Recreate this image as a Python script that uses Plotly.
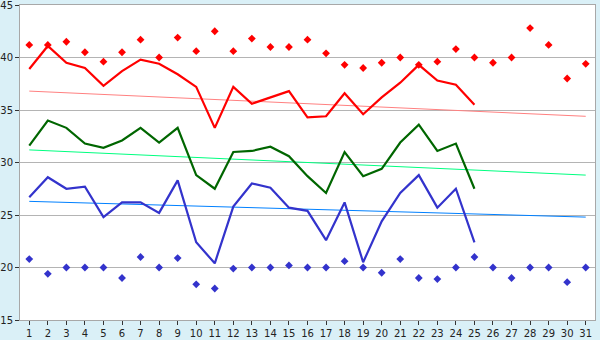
import plotly.graph_objects as go

days = list(range(1, 32))
line_days = list(range(1, 26))

max_temp = [38.9, 41.1, 39.5, 39.0, 37.3, 38.7, 39.8, 39.4, 38.4, 37.2,
            33.3, 37.2, 35.6, 36.2, 36.8, 34.3, 34.4, 36.6, 34.6, 36.2,
            37.6, 39.3, 37.8, 37.4, 35.5]
avg_temp = [31.6, 34.0, 33.3, 31.8, 31.4, 32.1, 33.3, 31.9, 33.3, 28.8,
            27.5, 31.0, 31.1, 31.5, 30.6, 28.7, 27.1, 31.0, 28.7, 29.4,
            31.9, 33.6, 31.1, 31.8, 27.5]
min_temp = [26.7, 28.6, 27.5, 27.7, 24.8, 26.2, 26.2, 25.2, 28.3, 22.4,
            20.4, 25.8, 28.0, 27.6, 25.7, 25.4, 22.6, 26.2, 20.5, 24.4,
            27.1, 28.8, 25.7, 27.5, 22.4]
record_high = [41.2, 41.2, 41.5, 40.5, 39.6, 40.5, 41.7, 40.0, 41.9, 40.6,
               42.5, 40.6, 41.8, 41.0, 41.0, 41.7, 40.4, 39.3, 39.0, 39.5,
               40.0, 39.3, 39.6, 40.8, 40.0, 39.5, 40.0, 42.8, 41.2, 38.0,
               39.4]
record_low = [20.8, 19.4, 20.0, 20.0, 20.0, 19.0, 21.0, 20.0, 20.9, 18.4,
              18.0, 19.9, 20.0, 20.0, 20.2, 20.0, 20.0, 20.6, 20.0, 19.5,
              20.8, 19.0, 18.9, 20.0, 21.0, 20.0, 19.0, 20.0, 20.0, 18.6,
              20.0]
trend_days = [1, 31]
trend_high = [36.8, 34.4]
trend_avg = [31.2, 28.8]
trend_low = [26.3, 24.8]

fig = go.Figure()
fig.add_trace(go.Scatter(x=trend_days, y=trend_high, mode="lines",
                         line=dict(color="#FF8080", width=1)))
fig.add_trace(go.Scatter(x=trend_days, y=trend_avg, mode="lines",
                         line=dict(color="#00FF80", width=1)))
fig.add_trace(go.Scatter(x=trend_days, y=trend_low, mode="lines",
                         line=dict(color="#0080FF", width=1)))
fig.add_trace(go.Scatter(x=line_days, y=max_temp, mode="lines",
                         line=dict(color="#FF0000", width=2.2)))
fig.add_trace(go.Scatter(x=line_days, y=avg_temp, mode="lines",
                         line=dict(color="#006600", width=2.2)))
fig.add_trace(go.Scatter(x=line_days, y=min_temp, mode="lines",
                         line=dict(color="#3333CC", width=2.2)))
fig.add_trace(go.Scatter(x=days, y=record_high, mode="markers",
                         marker=dict(symbol="diamond", size=6, color="#FF0000")))
fig.add_trace(go.Scatter(x=days, y=record_low, mode="markers",
                         marker=dict(symbol="diamond", size=6, color="#3333CC")))

fig.update_layout(
    width=600, height=340,
    margin=dict(l=20, r=5, t=5, b=20),
    paper_bgcolor="#DAF0F7",
    plot_bgcolor="#FFFFFF",
    showlegend=False,
    font=dict(family="DejaVu Sans", size=10, color="#222222"),
)
fig.update_xaxes(range=[0.5, 31.5], tickmode="array", tickvals=days,
                 ticktext=[str(d) for d in days],
                 showgrid=False, zeroline=False, automargin=False,
                 showline=True, linecolor="#A8A8A8", linewidth=1, mirror=True,
                 ticks="outside", ticklen=4, tickcolor="#333333",
                 ticklabeloverflow="allow", ticklabelstandoff=0)
fig.update_yaxes(range=[15, 45], tickvals=[15, 20, 25, 30, 35, 40, 45],
                 showgrid=True, gridcolor="#B4B4B4", gridwidth=1, zeroline=False,
                 automargin=False,
                 showline=True, linecolor="#A8A8A8", linewidth=1, mirror=True,
                 ticks="outside", ticklen=4, tickcolor="#333333",
                 ticklabeloverflow="allow", ticklabelstandoff=0)

fig.write_html("out.html")
